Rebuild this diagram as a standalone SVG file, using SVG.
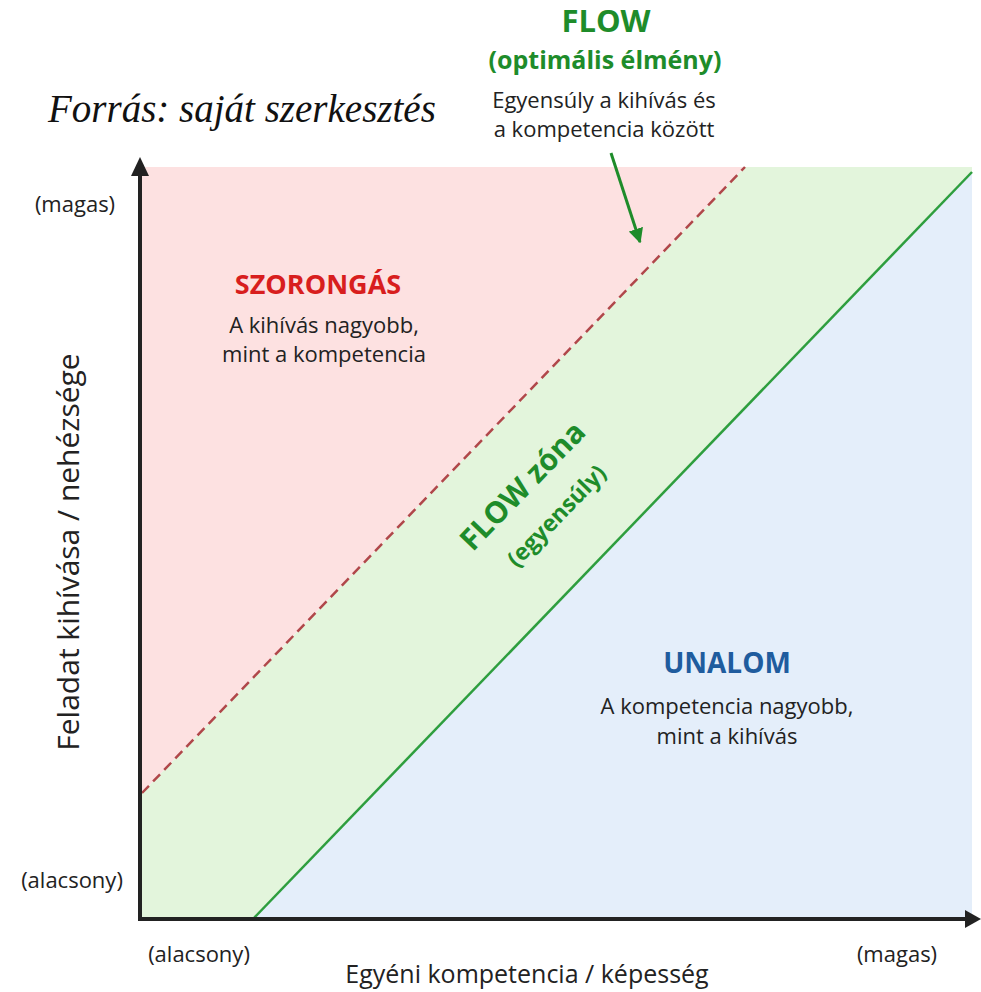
<svg xmlns="http://www.w3.org/2000/svg" width="981" height="992" viewBox="0 0 981 992">
<defs>
<style>
.t{font-family:"Open Sans","Noto Sans",sans-serif;fill:#222;text-anchor:middle}
.s{font-size:22px}
.b{font-weight:bold}
.g{fill:#1e8c2a}
</style>
<marker id="ah" viewBox="0 0 10 10" refX="9" refY="5" markerWidth="5" markerHeight="5" markerUnits="strokeWidth" orient="auto">
<path d="M0,0 L10,5 L0,10 z" fill="#1e8c2a"/>
</marker>
</defs>
<rect width="981" height="992" fill="#ffffff"/>
<g id="regions">
<polygon points="142,167 745,167 142,793" fill="#fde1e1"/>
<polygon points="142,793 745,167 972,167 972,172 254,918 142,918" fill="#e3f5dc"/>
<polygon points="254,918 972,172 972,918" fill="#e4eefa"/>
</g>
<g id="connectors">
<line x1="142" y1="793" x2="745" y2="167" stroke="#b0474a" stroke-width="2.5" stroke-dasharray="10 6"/>
<line x1="254" y1="918" x2="972" y2="172" stroke="#2e9e3e" stroke-width="2.5"/>
<line x1="611" y1="153" x2="640" y2="242" stroke="#1e8c2a" stroke-width="3" marker-end="url(#ah)"/>
</g>
<g id="axes">
<polyline points="140,174 140,919 968,919" fill="none" stroke="#222" stroke-width="4"/>
<polygon points="140,157 131,176 149,176" fill="#222"/>
<polygon points="981,919 965,910 965,928" fill="#222"/>
</g>
<g id="source"><text x="48" y="122" style="font-family:'Liberation Serif',serif;font-style:italic;font-size:39px;fill:#111">Forrás: saját szerkesztés</text></g>
<g id="flow-title">
<text class="t b g" x="606" y="32" style="font-size:31px">FLOW</text>
<text class="t b g" x="605" y="69" style="font-size:25px">(optimális élmény)</text>
<text class="t s" x="604" y="108">Egyensúly a kihívás és</text>
<text class="t s" x="604" y="137">a kompetencia között</text>
</g>
<g id="szorongas">
<text class="t b" x="318" y="294" style="font-size:27px;fill:#d81e1e">SZORONGÁS</text>
<text class="t s" x="324" y="333">A kihívás nagyobb,</text>
<text class="t s" x="324" y="362">mint a kompetencia</text>
</g>
<g id="unalom">
<text class="t b" x="727" y="673" style="font-size:28px;fill:#1f5c9e">UNALOM</text>
<text class="t s" x="727" y="714">A kompetencia nagyobb,</text>
<text class="t s" x="727" y="744">mint a kihívás</text>
</g>
<g id="flow-zone" transform="translate(530,493) rotate(-46)">
<text class="t b g" x="0" y="0" style="font-size:30px">FLOW zóna</text>
<text class="t b g" x="2" y="43" style="font-size:23px">(egyensúly)</text>
</g>
<g id="axis-labels">
<text class="t s" x="75" y="212">(magas)</text>
<text class="t s" x="72" y="888">(alacsony)</text>
<text class="t s" x="199" y="962">(alacsony)</text>
<text class="t s" x="897" y="962">(magas)</text>
<text class="t" x="527" y="983" style="font-size:25px">Egyéni kompetencia / képesség</text>
<text class="t" transform="translate(79,552) rotate(-90)" x="0" y="0" style="font-size:30px">Feladat kihívása / nehézsége</text>
</g>
</svg>
